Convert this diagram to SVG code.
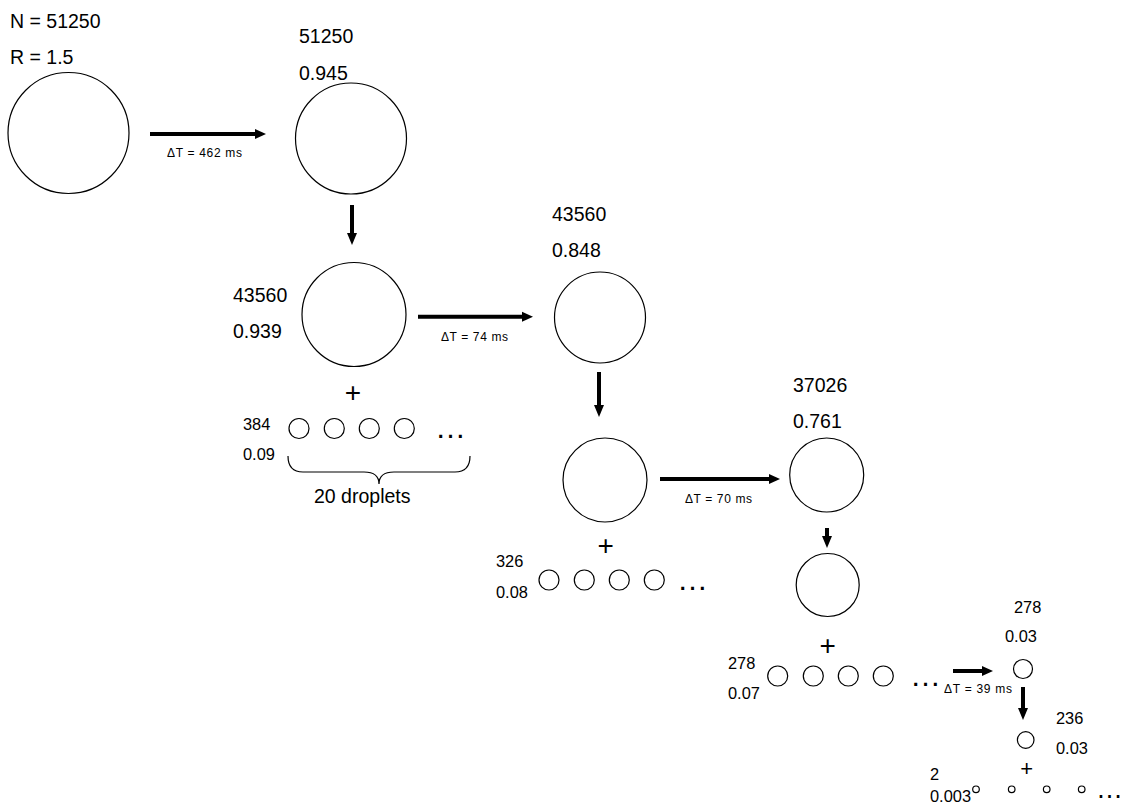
<svg xmlns="http://www.w3.org/2000/svg" width="1124" height="810" viewBox="0 0 1124 810">
<style>
text{font-family:"Liberation Sans",Arial,sans-serif;fill:#000}
.big{font-size:19.5px}
.sm{font-size:16.4px}
.dt{font-size:12px}
.plus{font-size:28px;text-anchor:middle}
.dots{font-size:31px}
circle{fill:#fff;stroke:#000;stroke-width:1.2}
.arr{stroke:#000;stroke-width:4;fill:none}
.head{fill:#000}
</style>
<rect width="1124" height="810" fill="#fff"/>
<g id="n1">
<text class="big" x="10" y="28">N = 51250</text>
<text class="big" x="10" y="64">R = 1.5</text>
<circle cx="68.5" cy="133" r="60.5"/>
</g>
<g id="n2">
<text class="big" x="299" y="43">51250</text>
<text class="big" x="299" y="80">0.945</text>
<circle cx="351" cy="138.5" r="55.5"/>
</g>
<g id="n3">
<text class="big" x="233" y="302">43560</text>
<text class="big" x="233" y="338">0.939</text>
<circle cx="354" cy="314.5" r="52"/>
<text class="plus" x="353" y="402">+</text>
<text class="sm" x="243" y="430">384</text>
<text class="sm" x="243" y="460">0.09</text>
<circle cx="299" cy="428.5" r="10"/>
<circle cx="334.3" cy="428.5" r="10"/>
<circle cx="369.3" cy="428.5" r="10"/>
<circle cx="404.3" cy="428.5" r="10"/>
<text class="dots" x="435" y="438">…</text>
<path d="M288,456 Q288,472 303,472 L364,472 Q379,472 379,484 Q379,472 394,472 L455,472 Q470,472 470,456" fill="none" stroke="#000" stroke-width="1.2"/>
<text class="big" x="314" y="503">20 droplets</text>
</g>
<g id="n4">
<text class="big" x="552" y="221">43560</text>
<text class="big" x="552" y="257">0.848</text>
<circle cx="600" cy="317.5" r="45.5"/>
</g>
<g id="n5">
<circle cx="605" cy="480" r="42"/>
<text class="plus" x="605.7" y="555">+</text>
<text class="sm" x="496" y="567">326</text>
<text class="sm" x="496" y="598">0.08</text>
<circle cx="549" cy="580" r="10"/>
<circle cx="584.3" cy="580" r="10"/>
<circle cx="619.3" cy="580" r="10"/>
<circle cx="654.3" cy="580" r="10"/>
<text class="dots" x="677" y="590">…</text>
</g>
<g id="n6">
<text class="big" x="793" y="392">37026</text>
<text class="big" x="793" y="428">0.761</text>
<circle cx="826.7" cy="475" r="37"/>
</g>
<g id="n7">
<circle cx="827.7" cy="585" r="31.5"/>
<text class="plus" x="827.7" y="655">+</text>
<text class="sm" x="728" y="669">278</text>
<text class="sm" x="728" y="699">0.07</text>
<circle cx="777.7" cy="676" r="10"/>
<circle cx="813.3" cy="676" r="10"/>
<circle cx="848.3" cy="676" r="10"/>
<circle cx="883.3" cy="676" r="10"/>
<text class="dots" x="910" y="686">…</text>
</g>
<g id="n8">
<text class="sm" x="1014" y="613">278</text>
<text class="sm" x="1005" y="642">0.03</text>
<circle cx="1023" cy="669" r="9.5"/>
</g>
<g id="n9">
<text class="sm" x="1056" y="724">236</text>
<text class="sm" x="1056" y="754">0.03</text>
<circle cx="1025.7" cy="740" r="8.3"/>
<text class="plus" x="1026.7" y="776" style="font-size:22px">+</text>
<text class="sm" x="930" y="780">2</text>
<text class="sm" x="930" y="802">0.003</text>
<circle cx="976" cy="789.3" r="3.3"/>
<circle cx="1011.7" cy="789.3" r="3.3"/>
<circle cx="1046.7" cy="789.3" r="3.3"/>
<circle cx="1081.7" cy="789.3" r="3.3"/>
<text class="dots" x="1096" y="798" style="font-size:27px">…</text>
</g>
<g id="connectors">
<line class="arr" x1="150" y1="134" x2="256" y2="134"/>
<polygon class="head" points="255,129 266,134 255,139"/>
<text class="dt" x="167" y="157" textLength="75">ΔT = 462 ms</text>
<line class="arr" x1="352" y1="205" x2="352" y2="235"/>
<polygon class="head" points="347,233 352,245 357,233"/>
<line class="arr" x1="418" y1="316.7" x2="523" y2="316.7"/>
<polygon class="head" points="522,311.7 533,316.7 522,321.7"/>
<text class="dt" x="441" y="341" textLength="67">ΔT = 74 ms</text>
<line class="arr" x1="599" y1="372" x2="599" y2="407"/>
<polygon class="head" points="594,405 599,417 604,405"/>
<line class="arr" x1="660" y1="479" x2="770" y2="479"/>
<polygon class="head" points="769,474 780,479 769,484"/>
<text class="dt" x="685" y="503" textLength="67">ΔT = 70 ms</text>
<line class="arr" x1="827" y1="528" x2="827" y2="538"/>
<polygon class="head" points="822,536 827,548 832,536"/>
<line class="arr" x1="953" y1="671" x2="983" y2="671"/>
<polygon class="head" points="982,666 993,671 982,676"/>
<text class="dt" x="944" y="693" textLength="68">ΔT = 39 ms</text>
<line class="arr" x1="1023" y1="687" x2="1023" y2="710"/>
<polygon class="head" points="1018,708 1023,720 1028,708"/>
</g>
</svg>
